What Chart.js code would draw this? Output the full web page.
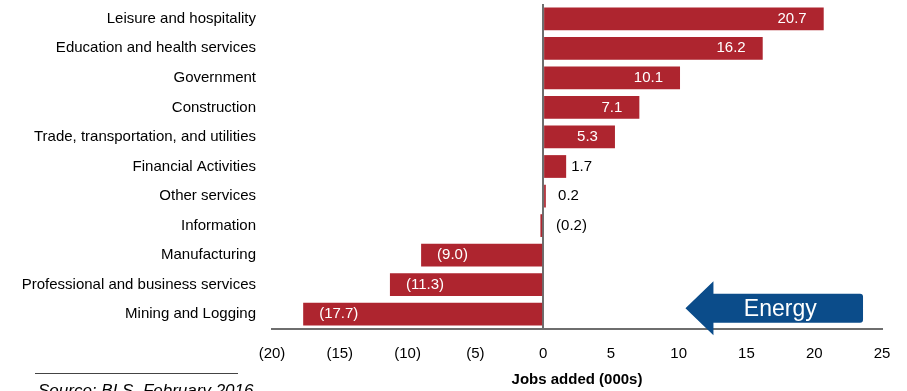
<!DOCTYPE html>
<html>
<head>
<meta charset="utf-8">
<script src="https://cdn.jsdelivr.net/npm/chart.js@4/dist/chart.umd.min.js"></script>
<style>
  html, body { margin: 0; padding: 0; background: #ffffff; }
  #wrap { width: 907px; height: 391px; }
</style>
</head>
<body>
<div id="wrap"><canvas id="chart" width="907" height="391"></canvas></div>
<script>
// Sectors and monthly job change (thousands)
const categories = [
  'Leisure and hospitality',
  'Education and health services',
  'Government',
  'Construction',
  'Trade, transportation, and utilities',
  'Financial Activities',
  'Other services',
  'Information',
  'Manufacturing',
  'Professional and business services',
  'Mining and Logging'
];
const jobsAdded = [20.7, 16.2, 10.1, 7.1, 5.3, 1.7, 0.2, -0.2, -9.0, -11.3, -17.7];
const axisTicks = [-20, -15, -10, -5, 0, 5, 10, 15, 20, 25];
const axisTitle = 'Jobs added (000s)';
const sourceNote = 'Source: BLS, February 2016';
const calloutText = 'Energy';

const FONT = "'Liberation Sans', Arial, sans-serif";
const BAR_RED = '#AE252F';
const AXIS_GREY = '#6e6e6e';
const ARROW_BLUE = '#0B4C8A';

// Accounting style: negatives in parentheses
function fmtTick(v) {
  return v < 0 ? '(' + Math.abs(v) + ')' : String(v);
}
function fmtValue(v) {
  return v < 0 ? '(' + Math.abs(v).toFixed(1) + ')' : v.toFixed(1);
}

// Value labels: inside the bar for long bars, just outside for short ones
const valueLabels = {
  id: 'valueLabels',
  afterDatasetsDraw(chart) {
    const ctx = chart.ctx;
    const meta = chart.getDatasetMeta(0);
    ctx.save();
    ctx.font = '15px ' + FONT;
    ctx.textBaseline = 'middle';
    meta.data.forEach((bar, i) => {
      const v = jobsAdded[i];
      const txt = fmtValue(v);
      if (v >= 5) {
        ctx.fillStyle = '#ffffff';
        ctx.textAlign = 'right';
        ctx.fillText(txt, bar.x - 17, bar.y);
      } else if (v <= -5) {
        ctx.fillStyle = '#ffffff';
        ctx.textAlign = 'left';
        ctx.fillText(txt, bar.x + 16, bar.y);
      } else {
        ctx.fillStyle = '#000000';
        ctx.textAlign = 'left';
        const end = Math.max(bar.x, bar.base);
        ctx.fillText(txt, Math.max(end + 5, bar.base + 14), bar.y);
      }
    });
    ctx.restore();
  }
};

// Axis title, source note and the "Energy" callout arrow
const extras = {
  id: 'extras',
  afterDraw(chart) {
    const ctx = chart.ctx;
    const area = chart.chartArea;
    const xs = chart.scales.x;
    const ys = chart.scales.y;
    ctx.save();

    // x-axis title
    ctx.fillStyle = '#000000';
    ctx.font = 'bold 15px ' + FONT;
    ctx.textAlign = 'center';
    ctx.textBaseline = 'middle';
    ctx.fillText(axisTitle, (area.left + area.right) / 2, 380);

    // source rule and note
    ctx.strokeStyle = '#444444';
    ctx.lineWidth = 1;
    ctx.beginPath();
    ctx.moveTo(35, 373.5);
    ctx.lineTo(238, 373.5);
    ctx.stroke();
    ctx.font = 'italic 17px ' + FONT;
    ctx.textAlign = 'left';
    ctx.textBaseline = 'alphabetic';
    ctx.fillStyle = '#000000';
    ctx.fillText(sourceNote, 38, 396);

    // left-pointing arrow beside the mining bar
    const step = ys.getPixelForValue(1) - ys.getPixelForValue(0);
    const cy = ys.getPixelForValue(categories.length - 1) - step * 0.2;
    const tipX = xs.getPixelForValue(10.5);
    const endX = xs.getPixelForValue(23.6);
    const headLen = 28;
    const headHalf = 27;
    const bodyHalf = 14.5;
    const r = 3;
    ctx.fillStyle = ARROW_BLUE;
    ctx.beginPath();
    ctx.moveTo(tipX, cy);
    ctx.lineTo(tipX + headLen, cy - headHalf);
    ctx.lineTo(tipX + headLen, cy - bodyHalf);
    ctx.lineTo(endX - r, cy - bodyHalf);
    ctx.quadraticCurveTo(endX, cy - bodyHalf, endX, cy - bodyHalf + r);
    ctx.lineTo(endX, cy + bodyHalf - r);
    ctx.quadraticCurveTo(endX, cy + bodyHalf, endX - r, cy + bodyHalf);
    ctx.lineTo(tipX + headLen, cy + bodyHalf);
    ctx.lineTo(tipX + headLen, cy + headHalf);
    ctx.closePath();
    ctx.fill();

    ctx.fillStyle = '#ffffff';
    ctx.font = '23px ' + FONT;
    ctx.textAlign = 'center';
    ctx.textBaseline = 'middle';
    ctx.fillText(calloutText, (tipX + headLen + endX) / 2 - 8, cy + 1.5);

    ctx.restore();
  }
};

new Chart(document.getElementById('chart'), {
  type: 'bar',
  data: {
    labels: categories,
    datasets: [{
      data: jobsAdded,
      backgroundColor: BAR_RED,
      borderWidth: 0,
      categoryPercentage: 1.0,
      barPercentage: 0.77
    }]
  },
  options: {
    indexAxis: 'y',
    responsive: false,
    animation: false,
    events: [],
    layout: { padding: { top: 4, right: 25, bottom: 0, left: 0 } },
    plugins: {
      legend: { display: false },
      tooltip: { enabled: false }
    },
    scales: {
      x: {
        min: axisTicks[0],
        max: axisTicks[axisTicks.length - 1],
        afterBuildTicks(scale) {
          scale.ticks = axisTicks.map(v => ({ value: v }));
        },
        afterFit(scale) {
          scale.height = 62;
          scale.paddingLeft = 0;
          scale.paddingRight = 0;
        },
        ticks: {
          callback: v => fmtTick(v),
          color: '#000000',
          font: { family: FONT, size: 15 },
          padding: 16,
          maxRotation: 0,
          autoSkip: false
        },
        grid: {
          drawTicks: false,
          lineWidth: 2,
          color: ctx => (ctx.tick && ctx.tick.value === 0 ? AXIS_GREY : 'rgba(0,0,0,0)')
        },
        border: { display: true, color: AXIS_GREY, width: 2 }
      },
      y: {
        afterFit(scale) {
          scale.width = 272;
          scale.paddingTop = 0;
          scale.paddingBottom = 0;
        },
        ticks: {
          color: '#000000',
          font: { family: FONT, size: 15 },
          padding: 16,
          autoSkip: false
        },
        grid: { display: false, drawTicks: false },
        border: { display: false }
      }
    }
  },
  plugins: [valueLabels, extras]
});
</script>
</body>
</html>
